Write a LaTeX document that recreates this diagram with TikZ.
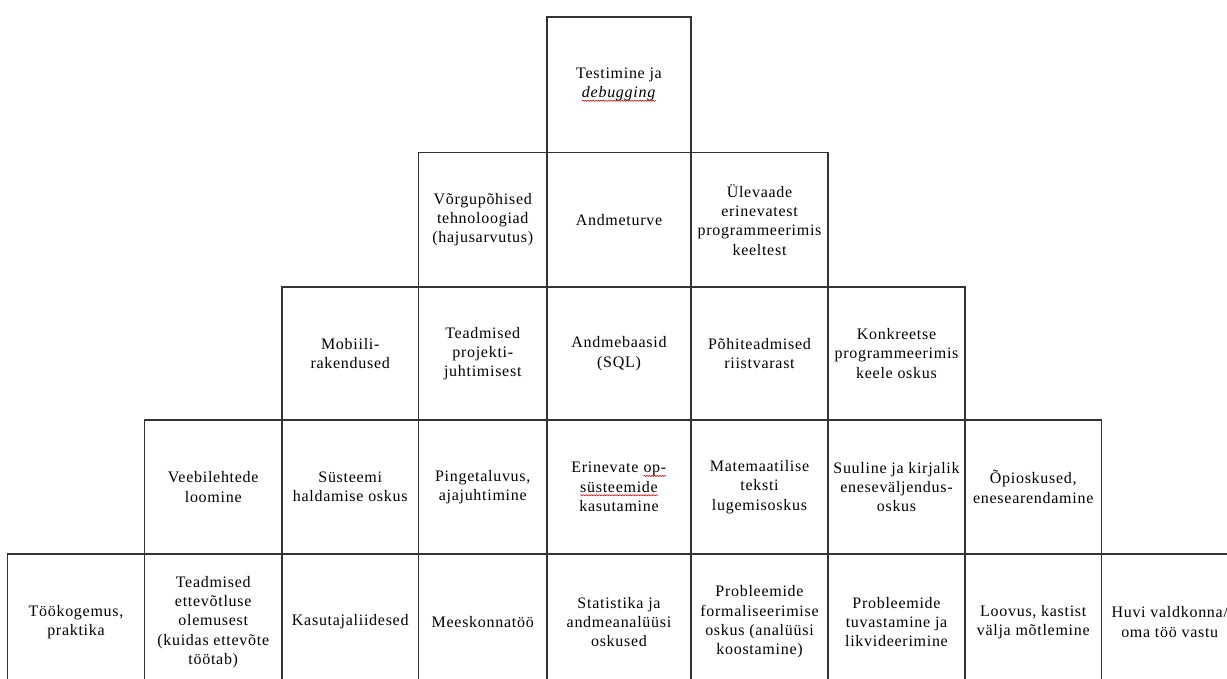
\documentclass[tikz,border=0pt]{standalone}
\usepackage{fontspec}
\setmainfont{Liberation Serif}[LetterSpace=4.5]
\usetikzlibrary{decorations.pathmorphing}
\tikzset{
  cellbox/.style={draw=black!80, line width=1.1pt, inner sep=0pt, align=center,
    font=\fontsize{16}{19.3}\selectfont, text=black},
  squigline/.style={draw=red!85!black, line width=0.55pt, decorate,
    decoration={snake, segment length=2.6pt, amplitude=0.6pt}}
}
% \cell{name}{x1}{x2}{y1}{y2}{text}
\newcommand\cell[6]{%
  \node[cellbox, minimum width={(#3-#2)*1pt}, minimum height={(#5-#4)*1pt}]
    (#1) at ({(#2+#3)/2},{(#4+#5)/2}) {#6};}
\newcommand\squig[1]{\tikz[baseline=(sq.base)]{%
  \node[draw=none, fill=none, inner sep=0pt, outer sep=0pt, minimum width=0pt,
    minimum height=0pt] (sq) {#1};
  \draw[squigline] ([yshift=-3pt]sq.base west) -- ([yshift=-3pt]sq.base east);}}
\begin{document}
\begin{tikzpicture}[x=1pt,y=-1pt]
\useasboundingbox (0,0) rectangle (1227,678);
\begin{scope}
\clip (0,0) rectangle (1227,678);
% row 1
\cell{r1a}{547}{691}{17}{152.5}{Testimine ja\\\squig{\textit{debugging}}}
% row 2
\cell{r2a}{418.5}{547}{152.5}{287}{Võrgupõhised\\tehnoloogiad\\(hajusarvutus)}
\cell{r2b}{547}{691}{152.5}{287}{Andmeturve}
\cell{r2c}{691}{828}{152.5}{287}{Ülevaade\\erinevatest\\programmeerimis\\keeltest}
% row 3
\cell{r3a}{282}{418.5}{287}{420}{Mobiili-\\rakendused}
\cell{r3b}{418.5}{547}{287}{420}{Teadmised\\projekti-\\juhtimisest}
\cell{r3c}{547}{691}{287}{420}{Andmebaasid\\(SQL)}
\cell{r3d}{691}{828}{287}{420}{Põhiteadmised\\riistvarast}
\cell{r3e}{828}{965}{287}{420}{Konkreetse\\programmeerimis\\keele oskus}
% row 4
\cell{r4a}{144.5}{282}{420}{554}{Veebilehtede\\loomine}
\cell{r4b}{282}{418.5}{420}{554}{Süsteemi\\haldamise oskus}
\cell{r4c}{418.5}{547}{420}{554}{Pingetaluvus,\\ajajuhtimine}
\cell{r4d}{547}{691}{420}{554}{Erinevate \squig{op-}\\\squig{süsteemide}\\kasutamine}
\cell{r4e}{691}{828}{420}{554}{Matemaatilise\\teksti\\lugemisoskus}
\cell{r4f}{828}{965}{420}{554}{Suuline ja kirjalik\\eneseväljendus-\\oskus}
\cell{r4g}{965}{1101.5}{420}{554}{Õpioskused,\\enesearendamine}
% row 5
\cell{r5a}{7.5}{144.5}{554}{690}{Töökogemus,\\praktika}
\cell{r5b}{144.5}{282}{554}{690}{Teadmised\\ettevõtluse\\olemusest\\(kuidas ettevõte\\töötab)}
\cell{r5c}{282}{418.5}{554}{690}{Kasutajaliidesed}
\cell{r5d}{418.5}{547}{554}{690}{Meeskonnatöö}
\cell{r5e}{547}{691}{554}{690}{Statistika ja\\andmeanalüüsi\\oskused}
\cell{r5f}{691}{828}{554}{690}{Probleemide\\formaliseerimise\\oskus (analüüsi\\koostamine)}
\cell{r5g}{828}{965}{554}{690}{Probleemide\\tuvastamine ja\\likvideerimine}
\cell{r5h}{965}{1101.5}{554}{690}{Loovus, kastist\\välja mõtlemine}
\cell{r5i}{1101.5}{1238}{554}{690}{Huvi valdkonna/\\oma töö vastu}
\end{scope}
\end{tikzpicture}
\end{document}
